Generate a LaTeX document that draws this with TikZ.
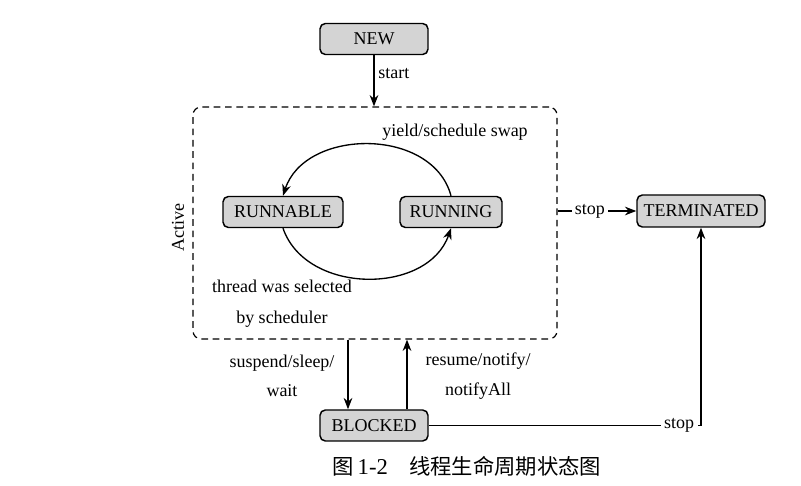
\documentclass[tikz,border=0pt]{standalone}
\usepackage{fontspec}
\setmainfont{Liberation Serif}
\newfontfamily\cjk{Noto Sans CJK SC}
\usetikzlibrary{arrows.meta}
\begin{document}
\begin{tikzpicture}[x=0.75pt,y=0.75pt,
  font=\fontsize{13.5}{16}\selectfont,
  state/.style={draw=black,line width=1.1pt,fill=black!17,rounded corners=4pt,
    minimum height=23.25pt,inner sep=0pt},
  conn/.style={line width=1pt,-{Stealth[length=8.5pt,width=6.5pt]}},
  plain/.style={line width=1pt},
  lbl/.style={inner sep=0pt,align=center}]
\useasboundingbox (0,0) rectangle (801,486);
% states
\node[state,minimum width=81pt] (new) at (374,447) {NEW};
\node[state,minimum width=90pt] (runnable) at (283,274) {RUNNABLE};
\node[state,minimum width=76.5pt] (running) at (451,274) {RUNNING};
\node[state,minimum width=96pt,minimum height=24pt] (term) at (701,275) {TERMINATED};
\node[state,minimum width=81pt] (blocked) at (374,60.5) {BLOCKED};
% active region
\node[draw=black,line width=0.9pt,dash pattern=on 5pt off 3.5pt,rounded corners=6pt,
  minimum width=273pt,minimum height=174pt,inner sep=0pt] (active) at (375,263) {};
\node[lbl,rotate=90] (activelbl) at (178,258) {Active};
% start
\draw[conn] (new.south) -- (new.south |- active.north);
\node[lbl,anchor=west] (startlbl) at (378,412) {start};
% cycle
\draw[conn] (running.north) to[out=105,in=72,looseness=1.09] (runnable.north);
\draw[conn] (runnable.south) to[out=-71,in=-109,looseness=1.08] (running.south);
\node[lbl] (yieldlbl) at (455,354) {yield/schedule swap};
\node[lbl] (threadlbl) at (282,182) {thread was selected\\[7pt]by scheduler};
% stop from active
\draw[conn] (active.east |- term.west) -- node[pos=0.41,fill=white,inner sep=2.5pt] {stop} (term.west);
% blocked transitions
\coordinate (dn) at (348,0);
\coordinate (up) at (407,0);
\draw[conn] (active.south -| dn) -- (blocked.north -| dn);
\draw[conn] (blocked.north -| up) -- (active.south -| up);
\node[lbl] (suslbl) at (282,110) {suspend/sleep/\\[6pt]wait};
\node[lbl] (reslbl) at (478,110) {resume/notify/\\[6pt]notifyAll};
% stop from blocked
\draw[conn] (blocked.east) -| node[pos=0.46,fill=white,inner sep=2.5pt] {stop} (term.south);
% caption
\node[lbl,font=\fontsize{16}{18}\selectfont] (caption) at (467,20) {\cjk 图\,{\rmfamily\fontsize{17}{18}\selectfont 1-2}\hspace{1em}线程生命周期状态图};
\end{tikzpicture}
\end{document}
